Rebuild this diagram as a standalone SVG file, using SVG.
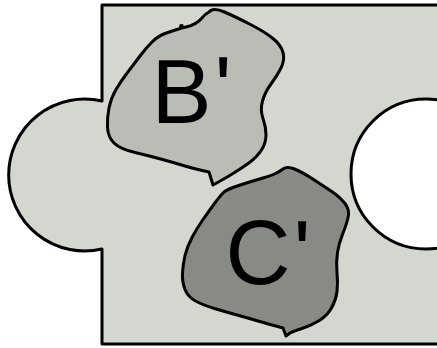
<svg xmlns="http://www.w3.org/2000/svg" width="437" height="348" viewBox="0 0 437 348">
  <style>
    .outline { stroke: #000; stroke-width: 3; stroke-linejoin: round; }
    .piece { fill: #d3d7cf; }
    .hole { fill: #fff; }
    .region-b { fill: #babdb6; }
    .region-c { fill: #888a85; }
    .label { font-family: "Liberation Sans", Arial, sans-serif; font-size: 90px; fill: #000; }
  </style>

  <!-- puzzle piece with knob on the left and socket on the right -->
  <g id="piece">
    <path class="piece outline" d="M 102,101 L 102,5 L 445,5 L 445,344 L 102,344 L 102,249 A 76 76 0 1 1 102,101 Z"/>
    <circle class="hole outline" cx="426" cy="174" r="75"/>
  </g>

  <!-- region B' -->
  <g id="region-b">
    <path class="region-b outline" d="M 209,12 Q 213,7 224.5,12 Q 236,17 250.5,24.5 Q 265,32 273,38.5 Q 281,45 283,52.5 Q 285,60 281,68 Q 277,76 271,84 Q 265,92 262.5,101 Q 260,110 263,118.5 Q 266,127 266,135 Q 266,143 261.5,150 Q 257,157 249.5,162.5 Q 242,168 233,173.5 Q 224,179 218.5,182 L 213,185 L 209,172 Q 195,169 185,166 Q 175,163 162.5,159.5 Q 150,156 135,152.5 Q 120,149 114,143 Q 108,137 107.5,127.5 Q 107,118 109,108 Q 111,98 116,89.5 Q 121,81 127.5,72.5 Q 134,64 140,56 Q 146,48 152,42 Q 158,36 165,33.5 Q 172,31 177,29.5 Q 182,28 186,27 Q 196,25 202,18 Q 205,14 209,12 Z"/>
    <circle cx="181.5" cy="26.5" r="2.4" fill="#000"/>
    <text class="label" x="151.5" y="123">B<tspan dx="3" dy="-3">'</tspan></text>
  </g>

  <!-- region C' -->
  <g id="region-c">
    <path class="region-c outline" d="M 283,169 Q 287,166 294.5,169 Q 302,172 312,178.5 Q 322,185 331,191 Q 340,197 345,203.5 Q 350,210 348,218 Q 346,226 342.5,234.5 Q 339,243 337.5,252.5 Q 336,262 337,272.5 Q 338,283 337,291.5 Q 336,300 331.5,308 Q 327,316 318.5,321 Q 310,326 302,328.5 Q 294,331 290,333 L 286,336 L 283,328 Q 268,324 258,321 Q 248,318 237,315 Q 226,312 214.5,308.5 Q 203,305 195.5,301 Q 188,297 185,289.5 Q 182,282 182.5,273 Q 183,264 185,255.5 Q 187,247 192,237.5 Q 197,228 203,219.5 Q 209,211 214.5,203.5 Q 220,196 223,193 Q 226,190 233,187.5 Q 240,185 248,182.5 Q 256,180 263,178 Q 270,176 274.5,174 Q 279,172 283,169 Z"/>
    <text class="label" x="225.5" y="284">C<tspan dx="3">'</tspan></text>
  </g>
</svg>
